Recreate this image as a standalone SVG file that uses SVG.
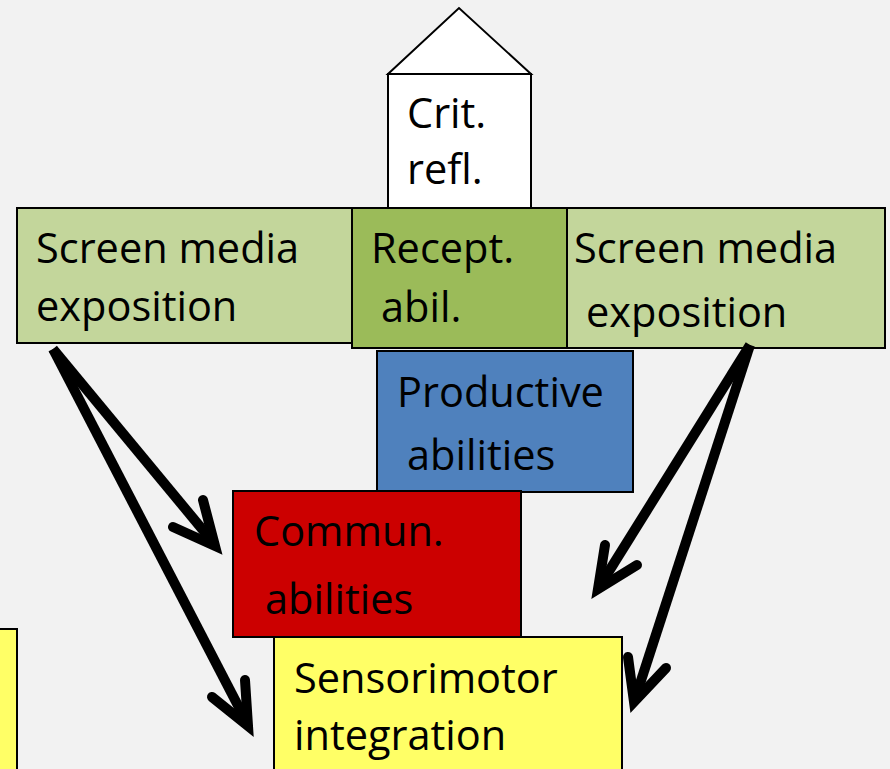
<svg xmlns="http://www.w3.org/2000/svg" width="890" height="769" viewBox="0 0 890 769">
  <defs>
    <style>
      .box { stroke: #000; stroke-width: 2; }
      .lbl { font-family: "Open Sans", "Liberation Sans", sans-serif; font-size: 41.5px; fill: #000; }
      .shaft { fill: none; stroke: #000; stroke-width: 10; stroke-linecap: butt; }
      .head { fill: none; stroke: #000; stroke-width: 10; stroke-linecap: round; stroke-linejoin: miter; stroke-miterlimit: 10; }
    </style>
  </defs>

  <rect width="890" height="769" fill="#f2f2f2"/>

  <!-- partial yellow block at the left edge -->
  <g id="edge-block">
    <rect class="box" x="-5" y="629" width="22" height="150" fill="#ffff66"/>
  </g>

  <!-- roof and critical reflection -->
  <g id="crit-refl">
    <polygon class="box" points="388,74 459,8 531,74" fill="#ffffff"/>
    <rect class="box" x="388" y="74" width="143" height="134" fill="#ffffff"/>
    <text class="lbl" x="407" y="128">Crit.</text>
    <text class="lbl" x="407" y="184">refl.</text>
  </g>

  <g id="screen-left">
    <rect class="box" x="17" y="208" width="335" height="135" fill="#c3d69b"/>
    <text class="lbl" x="36" y="263">Screen media</text>
    <text class="lbl" x="36" y="321">exposition</text>
  </g>

  <g id="screen-right">
    <rect class="box" x="567" y="208" width="318" height="140" fill="#c3d69b"/>
    <text class="lbl" x="574" y="263">Screen media</text>
    <text class="lbl" x="586" y="327">exposition</text>
  </g>

  <g id="recept">
    <rect class="box" x="352" y="208" width="215" height="140" fill="#9bbb59"/>
    <text class="lbl" x="371" y="263">Recept.</text>
    <text class="lbl" x="381" y="322">abil.</text>
  </g>

  <g id="productive">
    <rect class="box" x="377" y="351" width="256" height="141" fill="#4f81bd"/>
    <text class="lbl" x="397" y="407">Productive</text>
    <text class="lbl" x="407" y="470">abilities</text>
  </g>

  <g id="commun">
    <rect class="box" x="233" y="491" width="288" height="146" fill="#cc0000"/>
    <text class="lbl" x="254" y="546">Commun.</text>
    <text class="lbl" x="265" y="614">abilities</text>
  </g>

  <g id="sensorimotor">
    <rect class="box" x="274" y="637" width="348" height="140" fill="#ffff66"/>
    <text class="lbl" x="294" y="693">Sensorimotor</text>
    <text class="lbl" x="294" y="750">integration</text>
  </g>

  <!-- connectors -->
  <g id="connectors">
    <line class="shaft" x1="53" y1="349" x2="212" y2="541"/>
    <path class="head" d="M203,500 L215,546 L173,527"/>
    <line class="shaft" x1="53" y1="349" x2="246" y2="721"/>
    <path class="head" d="M245,680 L248,726 L212,697"/>
    <line class="shaft" x1="750" y1="345" x2="601" y2="584"/>
    <path class="head" d="M605,545 L598,589 L637,565"/>
    <line class="shaft" x1="750" y1="345" x2="636" y2="696"/>
    <path class="head" d="M628,657 L634,702 L666,668"/>
  </g>
</svg>
